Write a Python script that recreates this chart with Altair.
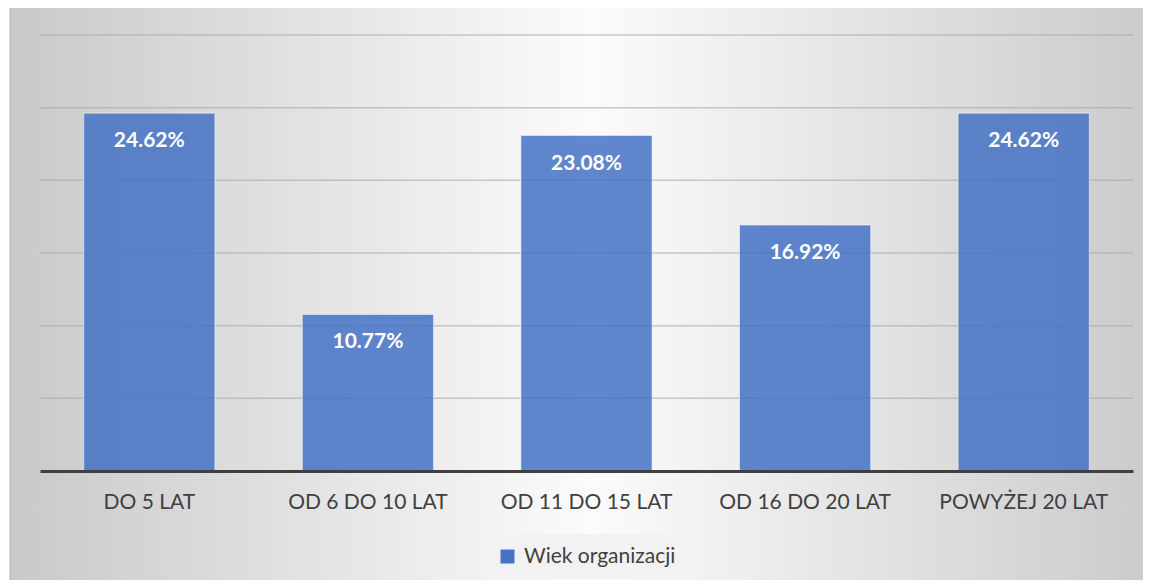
import altair as alt
import pandas as pd

categories = ["DO 5 LAT", "OD 6 DO 10 LAT", "OD 11 DO 15 LAT", "OD 16 DO 20 LAT", "POWYŻEJ 20 LAT"]
values = [24.62, 10.77, 23.08, 16.92, 24.62]
labels = ["24.62%", "10.77%", "23.08%", "16.92%", "24.62%"]
series_name = "Wiek organizacji"
grid_values = [5, 10, 15, 20, 25, 30]

df = pd.DataFrame({"cat": categories, "val": values, "lab": labels, "series": [series_name] * len(categories)})
grid_df = pd.DataFrame({"g": grid_values})

W, H = 1093, 436
FONT = "Lato"
TXT = "#404040"

bg = alt.Chart(pd.DataFrame({"a": [0]})).mark_rect(
    fill=alt.LinearGradient(
        gradient="linear", x1=0, x2=1, y1=0, y2=0,
        stops=[
            alt.GradientStop(color="#c9c9c9", offset=0),
            alt.GradientStop(color="#fbfbfb", offset=0.5),
            alt.GradientStop(color="#c9c9c9", offset=1),
        ],
    ),
    stroke="#b5b5b5", strokeWidth=1,
).encode(x=alt.value(-30), x2=alt.value(W + 40), y=alt.value(-40), y2=alt.value(H + 160))

yscale = alt.Scale(domain=[0, 30])
xscale = alt.Scale(paddingInner=0.4, paddingOuter=0.2)

grid = alt.Chart(grid_df).mark_rule(color="#a8a8a8", strokeOpacity=0.6, strokeWidth=1.5).encode(
    y=alt.Y("g:Q", scale=yscale, axis=None)
)

base = alt.Chart(df).encode(
    x=alt.X(
        "cat:N", sort=categories, scale=xscale,
        axis=alt.Axis(
            title=None, labelAngle=0, labelFont=FONT, labelFontSize=21, labelColor=TXT,
            domainColor="#404040", domainWidth=3, ticks=False, labelPadding=20, zindex=1,
        ),
    )
)

bars = base.mark_bar(fillOpacity=0.85, stroke="#ffffff", strokeOpacity=0.5, strokeWidth=1).encode(
    y=alt.Y("val:Q", scale=yscale, axis=None),
    color=alt.Color(
        "series:N",
        scale=alt.Scale(range=["#4472C4"]),
        legend=alt.Legend(
            title=None, orient="none", legendX=445, legendY=499,
            symbolType="square", symbolSize=196, symbolStrokeWidth=0,
            labelFont=FONT, labelFontSize=21, labelColor=TXT, labelOffset=6,
            padding=12, fillColor="#f2f2f2",
        ),
    ),
)

text = base.mark_text(
    color="white", font=FONT, fontWeight="bold", fontSize=21, baseline="middle", dy=28
).encode(y=alt.Y("val:Q", scale=yscale, axis=None), text="lab:N")

chart = alt.layer(bg, grid, bars, text).properties(
    width=W, height=H,
    padding={"left": 32, "top": 27, "right": 10, "bottom": 109},
    autosize=alt.AutoSizeParams(type="none"),
).configure_view(stroke=None)

chart.save("out.html", embed_options={"renderer": "svg", "actions": False})
